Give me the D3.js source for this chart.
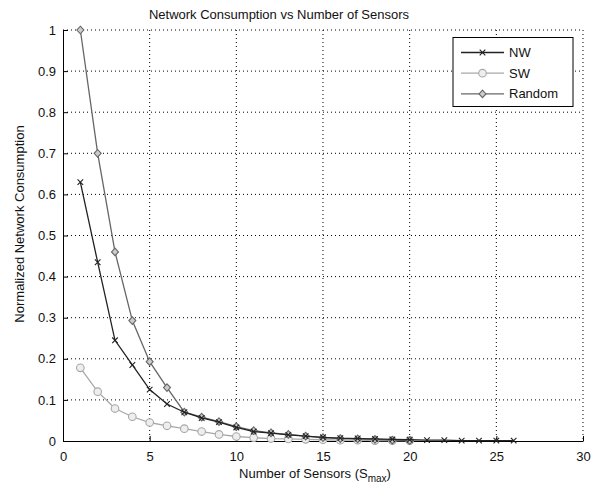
<!DOCTYPE html>
<html><head><meta charset="utf-8">
<script src="https://cdn.jsdelivr.net/npm/d3@7"></script>
<style>body{margin:0;background:#fff}svg{display:block;font-family:"Liberation Sans",Arial,sans-serif}</style>
</head><body><svg id="c" width="595" height="486"></svg>
<script>
const xTicks = [0,5,10,15,20,25,30];
const yTicks = [0,0.1,0.2,0.3,0.4,0.5,0.6,0.7,0.8,0.9,1];
const nwX = [1,2,3,4,5,6,7,8,9,10,11,12,13,14,15,16,17,18,19,20,21,22,23,24,25,26];
const nwY = [0.63,0.435,0.245,0.185,0.125,0.09,0.07,0.056,0.046,0.033,0.023,0.019,0.015,0.012,0.009,0.007,0.006,0.005,0.004,0.003,0.002,0.002,0.001,0.001,0.001,0.001];
const swX = [1,2,3,4,5,6,7,8,9,10,11,12,13,14,15,16,17,18,19,20];
const swY = [0.178,0.12,0.079,0.059,0.045,0.037,0.03,0.023,0.016,0.011,0.008,0.006,0.005,0.004,0.003,0.002,0.002,0.001,0.001,0.001];
const rdX = [1,2,3,4,5,6,7,8,9,10,11,12,13,14,15,16,17,18,19,20];
const rdY = [1.0,0.70,0.46,0.293,0.193,0.13,0.07,0.058,0.047,0.035,0.025,0.02,0.016,0.012,0.008,0.006,0.005,0.004,0.002,0.001];

const svg = d3.select("#c");
const L=63,R=583,T=30,B=441;
const x = d3.scaleLinear().domain([0,30]).range([L,R]);
const y = d3.scaleLinear().domain([0,1]).range([B,T]);

// grid
const g = svg.append("g");
xTicks.filter(d=>d>0).forEach(d=>g.append("line").attr("x1",x(d)).attr("x2",x(d)).attr("y1",T).attr("y2",B)
  .attr("stroke","#000").attr("stroke-width",1).attr("stroke-dasharray","1,3"));
yTicks.filter(d=>d>0).forEach(d=>g.append("line").attr("x1",L).attr("x2",R).attr("y1",y(d)).attr("y2",y(d))
  .attr("stroke","#000").attr("stroke-width",1).attr("stroke-dasharray","1,3"));

// axes
const xa = svg.append("g").attr("transform",`translate(0,${B})`)
  .call(d3.axisBottom(x).tickValues(xTicks).tickSizeInner(-5).tickSizeOuter(0).tickPadding(11));
const ya = svg.append("g").attr("transform",`translate(${L},0)`)
  .call(d3.axisLeft(y).tickValues(yTicks).tickFormat(d=>d===0?"0":d===1?"1":d3.format(".1f")(d)).tickSizeInner(-5).tickSizeOuter(0).tickPadding(7));
[xa,ya].forEach(a=>{a.selectAll("text").attr("font-size",13).attr("fill","#111").attr("font-family","Liberation Sans,Arial,sans-serif");
  a.select(".domain").attr("stroke","#000"); a.selectAll(".tick line").attr("stroke","#000");});

const line = d3.line().x(d=>x(d[0])).y(d=>y(d[1]));
function series(xs,ys,color,marker){
  const pts = xs.map((v,i)=>[v,ys[i]]);
  svg.append("path").datum(pts).attr("d",line).attr("fill","none").attr("stroke",color).attr("stroke-width",1.3);
  const mg = svg.append("g");
  pts.forEach(p=>drawMarker(mg,x(p[0]),y(p[1]),color,marker));
}
function drawMarker(mg,cx,cy,color,marker){
  if(marker==="x"){
    mg.append("path").attr("d",`M${cx-2.8},${cy-2.8}L${cx+2.8},${cy+2.8}M${cx-2.8},${cy+2.8}L${cx+2.8},${cy-2.8}`).attr("stroke",color).attr("stroke-width",1.1);
  } else if(marker==="o"){
    mg.append("circle").attr("cx",cx).attr("cy",cy).attr("r",3.8).attr("fill","#eee").attr("stroke",color).attr("stroke-width",1.1);
  } else {
    mg.append("path").attr("d",`M${cx},${cy-3.8}L${cx+3.5},${cy}L${cx},${cy+3.8}L${cx-3.5},${cy}Z`).attr("fill","#ccc").attr("stroke",color).attr("stroke-width",1.1);
  }
}
series(swX,swY,"#a8a8a8","o");
series(rdX,rdY,"#666","d");
series(nwX,nwY,"#222","x");

// title and labels
svg.append("text").attr("x",279).attr("y",19).attr("text-anchor","middle").attr("font-size",13).attr("fill","#111")
  .text("Network Consumption vs Number of Sensors");
const xl = svg.append("text").attr("x",315).attr("y",478).attr("text-anchor","middle").attr("font-size",13).attr("fill","#111");
xl.append("tspan").text("Number of Sensors (S");
xl.append("tspan").attr("font-size",10).attr("dy",4).text("max");
xl.append("tspan").attr("dy",-4).text(")");
svg.append("text").attr("transform","translate(24,224) rotate(-90)").attr("text-anchor","middle").attr("font-size",13).attr("fill","#111")
  .text("Normalized Network Consumption");

// legend
const lg = svg.append("g");
lg.append("rect").attr("x",453).attr("y",37.5).attr("width",120).attr("height",69).attr("fill","#fff").attr("stroke","#000").attr("stroke-width",1);
const items = [["NW","#222","x"],["SW","#a8a8a8","o"],["Random","#666","d"]];
items.forEach((it,i)=>{
  const yy = 52.5 + i*20.7;
  lg.append("line").attr("x1",461).attr("x2",504).attr("y1",yy).attr("y2",yy).attr("stroke",it[1]).attr("stroke-width",1.3);
  drawMarker(lg,482.5,yy,it[1],it[2]);
  lg.append("text").attr("x",509).attr("y",yy+4.5).attr("font-size",13).attr("fill","#111").text(it[0]);
});
</script></body></html>
